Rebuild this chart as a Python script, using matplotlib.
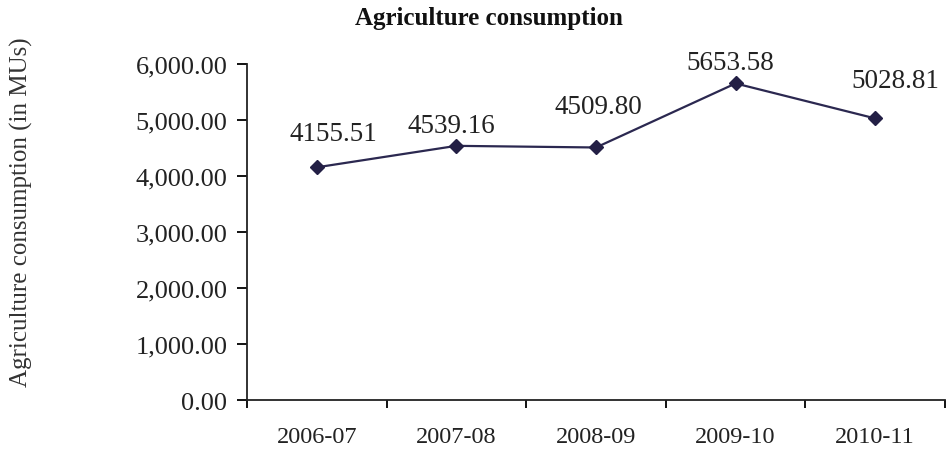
import numpy as np
import matplotlib.pyplot as plt
from matplotlib.ticker import FuncFormatter

plt.rcParams['font.family'] = ['Liberation Serif', 'DejaVu Serif']

# data
years = ['2006-07', '2007-08', '2008-09', '2009-10', '2010-11']
consumption = [4155.51, 4539.16, 4509.80, 5653.58, 5028.81]

# label offsets (px) relative to each point
label_dx = [17, -5, 2, -5, 20]
label_dy = [34, 20, 41, 21, 38]

fig = plt.figure(figsize=(9.46, 4.52), dpi=100)
ax = fig.add_axes([0.261, 0.1128, 0.738, 0.7433])

x = np.arange(len(years))
ax.plot(x, consumption, color='#2b2850', linewidth=1.6,
        marker='D', markersize=7, markerfacecolor='#231f45',
        markeredgecolor='#231f45', clip_on=False)

for xi, v, dx, dy in zip(x, consumption, label_dx, label_dy):
    ax.annotate('%.2f' % v, (xi, v), xytext=(dx * 0.72, dy * 0.72),
                textcoords='offset points', ha='center', va='center',
                fontsize=19.5, color='#222222')

ax.set_xlim(-0.5, len(years) - 0.5)
ax.set_ylim(0, 6000)
ax.set_yticks(np.arange(0, 6001, 1000))
ax.yaxis.set_major_formatter(FuncFormatter(lambda v, p: '{:,.2f}'.format(v)))

# ticks between categories on x
ax.set_xticks(np.arange(-0.5, len(years), 1.0))
ax.set_xticklabels([])
ax.set_xticks(x, minor=True)
ax.set_xticklabels(years, minor=True)
ax.tick_params(axis='x', which='minor', length=0, pad=19, labelsize=17.5, labelcolor='#222222')
ax.tick_params(axis='x', which='major', direction='out', length=6, width=1.3)
ax.tick_params(axis='y', direction='out', length=7, width=1.3, labelsize=19, pad=7,
               labelcolor='#222222')

for s in ['top', 'right']:
    ax.spines[s].set_visible(False)
for s in ['left', 'bottom']:
    ax.spines[s].set_linewidth(1.3)
    ax.spines[s].set_color('#222222')

fig.text(0.023, 0.531, 'Agriculture consumption (in MUs)', rotation=90,
         ha='center', va='center', fontsize=18, color='#333333')

fig.text(0.517, 0.96, 'Agriculture consumption', ha='center', va='center',
         fontsize=18, fontweight='bold', color='#111111')

fig.savefig('out.png', dpi=100)
